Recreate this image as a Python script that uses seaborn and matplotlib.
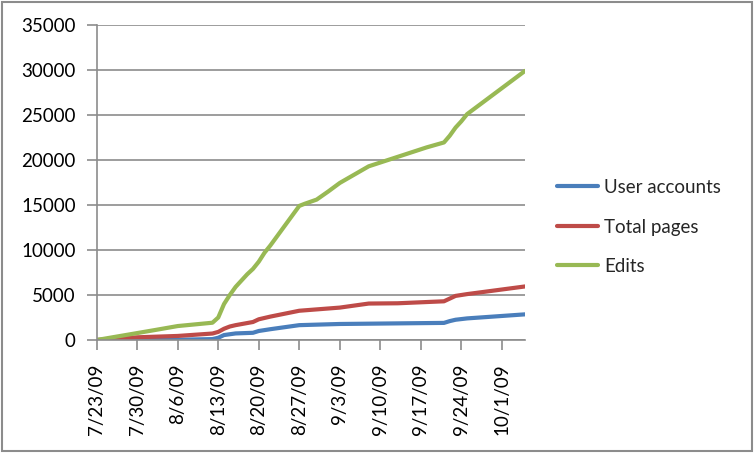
import matplotlib
matplotlib.use("Agg")
import matplotlib.pyplot as plt
import seaborn as sns
import pandas as pd

sns.set(style="white")
plt.rcParams['font.family'] = ['Lato', 'DejaVu Sans']

# values: day offsets from 7/23/09 and cumulative counts
start = pd.Timestamp("2009-07-23")

user_days = [0, 14, 20, 21, 22, 24, 27, 28, 30, 35, 42, 60, 61, 62, 64, 74]
user_vals = [0, 30, 100, 250, 550, 730, 800, 1000, 1200, 1650, 1780, 1900, 2100, 2250, 2400, 2850]

pages_days = [0, 7, 14, 20, 21, 22, 23, 24, 27, 28, 30, 35, 42, 47, 52, 60, 61, 62, 64, 74]
pages_vals = [0, 300, 450, 720, 900, 1250, 1500, 1650, 2000, 2300, 2600, 3250, 3600, 4050, 4080, 4300, 4600, 4900, 5100, 5950]

edits_days = [0, 10, 14, 20, 21, 22, 23, 24, 25, 26, 27, 28, 29, 30, 35, 36, 38, 40, 42,
              47, 52, 57, 60, 61, 62, 63, 64, 74]
edits_vals = [0, 1100, 1550, 1920, 2500, 4000, 5000, 5900, 6600, 7300, 7900, 8700, 9700, 10500,
              14900, 15150, 15600, 16500, 17450, 19300, 20350, 21400, 21950, 22700, 23600, 24300,
              25100, 29900]

series_names = ["User accounts", "Total pages", "Edits"]
colors = ["#4A7EBB", "#BE4B48", "#98B954"]

frames = []
for name, days, vals in zip(series_names, [user_days, pages_days, edits_days],
                            [user_vals, pages_vals, edits_vals]):
    frames.append(pd.DataFrame({
        "date": start + pd.to_timedelta(days, unit="D"),
        "value": vals,
        "series": name,
    }))
df = pd.concat(frames, ignore_index=True)

fig = plt.figure(figsize=(7.54, 4.54), dpi=100)
ax = fig.add_axes([96.7 / 754, 1 - 340 / 454, (525 - 96.7) / 754, (340 - 25) / 454])

sns.lineplot(data=df, x="date", y="value", hue="series", hue_order=series_names,
             palette=colors, linewidth=3, ax=ax, legend=False)

ax.set_xlim(start, start + pd.Timedelta(days=74))
ax.set_ylim(0, 35000)
ax.set_yticks(range(0, 35001, 5000))
ticks = pd.date_range(start, periods=11, freq="7D")
ax.set_xticks(ticks)
ax.set_xticklabels([f"{d.month}/{d.day}/{d:%y}" for d in ticks], rotation=90)
ax.set_xlabel("")
ax.set_ylabel("")

grid_color = "#8c8c8c"
ax.yaxis.grid(True, color=grid_color, linewidth=1.2)
ax.set_axisbelow(True)
for side in ["top", "right"]:
    ax.spines[side].set_visible(False)
for side in ["left", "bottom"]:
    ax.spines[side].set_color(grid_color)
    ax.spines[side].set_linewidth(1.2)
ax.tick_params(axis="both", direction="out", length=7, width=1.2, color=grid_color,
               labelsize=13.5, labelcolor="black")
ax.tick_params(axis="x", pad=10)
ax.tick_params(axis="y", pad=8)
ax.tick_params(bottom=True, left=True)

handles = [plt.Line2D([], [], color=c, linewidth=3) for c in colors]
fig.legend(handles, series_names, loc="center left", bbox_to_anchor=(557 / 754, 1 - 227 / 454),
           frameon=False, fontsize=13.5, handlelength=2.2, handletextpad=0.3,
           labelspacing=1.2, borderpad=0, borderaxespad=0)

fig.patches.append(plt.Rectangle((0.003, 0.006), 0.994, 0.99, transform=fig.transFigure,
                                 fill=False, edgecolor="#8c8c8c", linewidth=1.5))

plt.savefig("out.png", dpi=100)
